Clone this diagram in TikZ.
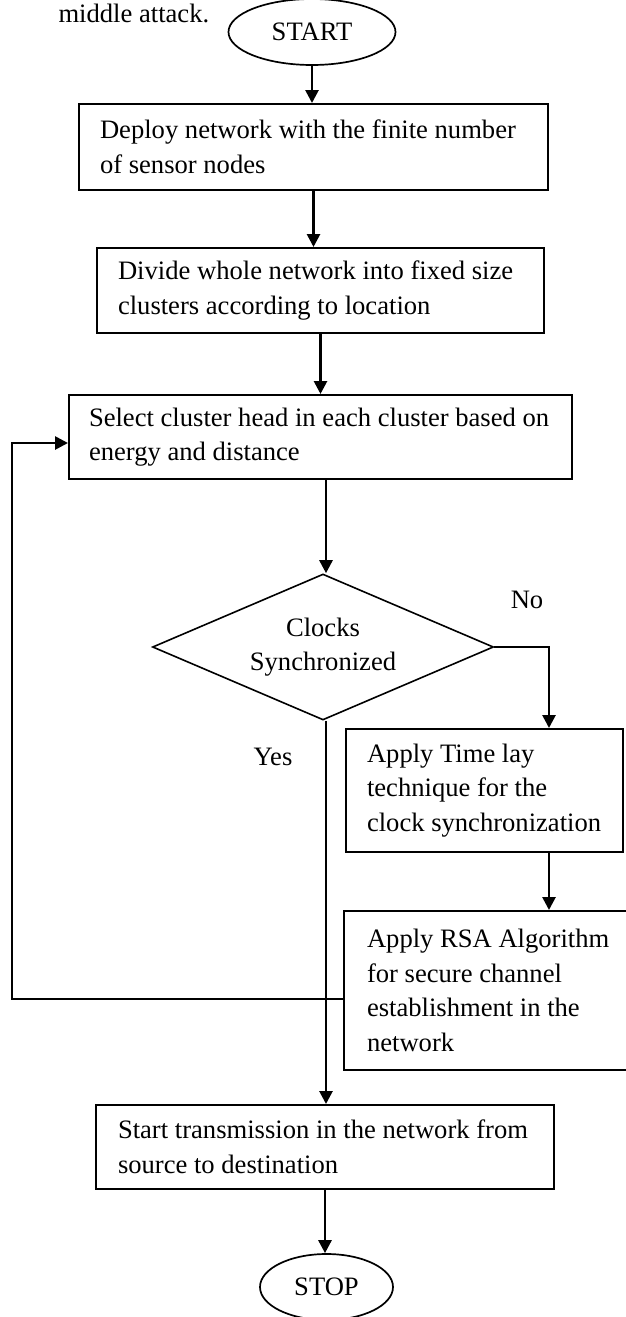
\documentclass[tikz,border=0pt]{standalone}
\usepackage{fontspec}
\setmainfont{Liberation Serif}
\usetikzlibrary{shapes.geometric,arrows.meta,calc}
\begin{document}
\begin{tikzpicture}[x=1pt,y=-1pt,
  every node/.style={font=\fontsize{26.6}{34.5}\selectfont},
  procbox/.style={draw,line width=2pt,rectangle,inner xsep=21pt,inner ysep=0pt,
    align=flush left,anchor=north west},
  terminal/.style={draw,ellipse,line width=1.7pt,inner sep=0pt},
  decision/.style={draw,diamond,aspect=2.34,line width=1.6pt,inner sep=0pt,align=flush center},
  flow/.style={line width=2.7pt,-{Triangle[length=13pt,width=13pt]}}]
\useasboundingbox (0,0) rectangle (625,1317);

% lead-in text from the surrounding paragraph
\node[anchor=base west] (lead) at (55,23) {middle attack.};

% terminals
\node[terminal, minimum width=167pt, minimum height=66pt] (start) at (312,32) {START};
\node[terminal, minimum width=133pt, minimum height=66pt] (stop) at (326.5,1287) {STOP};

% process steps
\node[procbox, minimum width=469pt, minimum height=86pt, text width=427pt] (deploy) at (78,103)
  {\mbox{Deploy network with the finite number}\\of sensor nodes};
\node[procbox, minimum width=447pt, minimum height=85pt, text width=405pt] (divide) at (96,247)
  {\mbox{Divide whole network into fixed size}\\clusters according to location};
\node[procbox, inner xsep=20pt, minimum width=503pt, minimum height=84pt, text width=463pt] (select) at (68,394)
  {\mbox{Select cluster head in each cluster based on}\\energy and distance};
\node[procbox, inner xsep=21pt, minimum width=277pt, minimum height=123pt, text width=235pt] (timelay) at (345,728)
  {Apply Time lay\\technique for the\\\mbox{clock synchronization}};
\node[procbox, inner xsep=23pt, minimum width=290pt, minimum height=159pt, text width=244pt] (rsa) at (343,910)
  {\mbox{Apply RSA Algorithm}\\for secure channel\\establishment in the\\network};
\node[procbox, inner xsep=22pt, minimum width=458pt, minimum height=84pt, text width=414pt] (transmit) at (95,1104)
  {\mbox{Start transmission in the network from}\\source to destination};

% decision
\node[decision, minimum width=341pt, minimum height=146pt] (sync) at (323,647) {Clocks\\Synchronized};

% branch labels
\node (no) at (527,600) {No};
\node (yes) at (273,757) {Yes};

% connectors
\draw[flow] (start.south) -- (start.south |- deploy.north);
\draw[flow] (deploy.south) -- (deploy.south |- divide.north);
\draw[flow] (divide.south) -- (divide.south |- select.north);
\draw[flow] ([xshift=3pt]select.south -| sync.north) -- ([xshift=3pt]sync.north);
\draw[flow] (sync.east) -| ([xshift=64.5pt]timelay.north);
\draw[flow] ([xshift=64.5pt]timelay.south) -- ([xshift=64.5pt]timelay.south |- rsa.north);
\draw[flow] ([xshift=3pt]sync.south) -- ([xshift=3pt]sync.south |- transmit.north);
\draw[flow] ([yshift=-8.5pt]rsa.west) -- ++(-331,0) |- ([yshift=-6pt]select.west);
\draw[flow] (transmit.south) -- (transmit.south |- stop.north);
\end{tikzpicture}
\end{document}
